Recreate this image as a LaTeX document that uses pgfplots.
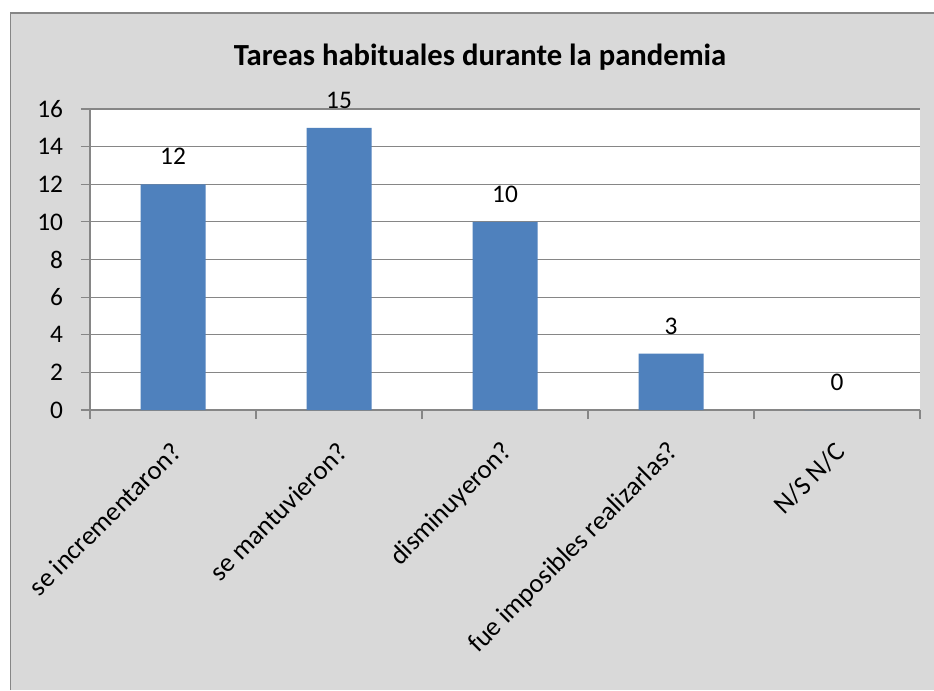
\documentclass[border=0pt]{standalone}
\usepackage{pgfplots}
\pgfplotsset{compat=1.18}
\usepackage{fontspec}
\setmainfont{Carlito}
\definecolor{bgGray}{HTML}{D9D9D9}
\definecolor{barBlue}{HTML}{4F81BD}
\definecolor{gridGray}{HTML}{868686}
\begin{document}
\begin{tikzpicture}[x=0.75pt,y=-0.75pt]
\useasboundingbox (0,0) rectangle (934,690);
\fill[white] (0,0) rectangle (934,690);
\fill[bgGray] (10.5,13) rectangle (934,690);
\draw[gridGray,line width=0.9pt] (10.5,690) -- (10.5,13) -- (934,13);
\node[font=\fontsize{23}{27}\selectfont\bfseries] at (480,57) {Tareas habituales durante la pandemia};
\begin{axis}[
  at={(67.5pt,-307.5pt)}, anchor=south west,
  scale only axis, width=622.5pt, height=225.75pt,
  ybar, bar width=48.75pt,
  xmin=-0.5, xmax=4.5, ymin=0, ymax=16,
  axis background/.style={fill=white},
  axis x line*=bottom, axis y line*=left,
  axis line style={gridGray, line width=0.8pt},
  ytick={0,2,...,16}, ymajorgrids,
  grid style={gridGray, line width=0.8pt},
  tick align=outside, major tick length=6.75pt,
  tick style={gridGray, line width=0.8pt},
  xtick={0,1,2,3,4},
  xticklabels={se incrementaron?, se mantuvieron?, disminuyeron?, fue imposibles realizarlas?, N/S N/C},
  xtick style={draw=none},
  extra x ticks={-0.5,0.5,1.5,2.5,3.5,4.5},
  extra x tick labels={},
  extra x tick style={xtick style={draw=gridGray}},
  /pgf/number format/assume math mode=true,
  ticklabel style={font=\fontsize{19}{21}\selectfont},
  yticklabel style={xshift=-10pt},
  xticklabel style={font=\fontsize{20}{22}\selectfont, xshift=5pt, yshift=-19pt, rotate=45, anchor=east},
  nodes near coords,
  every node near coord/.append style={font=\fontsize{19}{21}\selectfont, black, yshift=11pt},
]
\addplot[fill=barBlue, draw=none] coordinates {(0,12) (1,15) (2,10) (3,3) (4,0)};
\end{axis}
\end{tikzpicture}
\end{document}
